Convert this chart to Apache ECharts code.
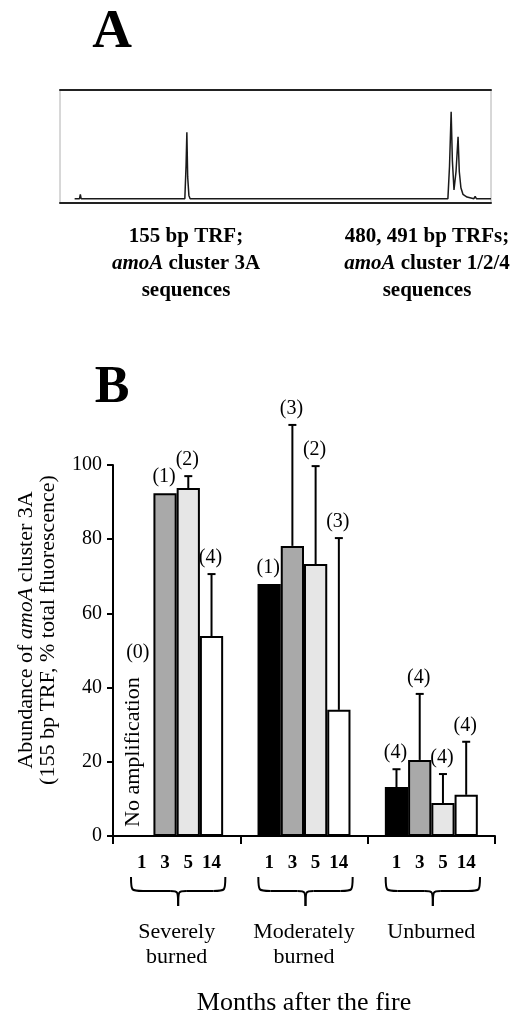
<!DOCTYPE html>
<html>
<head>
<meta charset="utf-8">
<script src="https://cdn.jsdelivr.net/npm/echarts@6/dist/echarts.min.js"></script>
<style>
  html, body { margin: 0; padding: 0; background: #fff; }
  #chart { width: 517px; height: 1015px; }
</style>
</head>
<body>
<div id="chart"></div>
<script>
// ---------- Panel A: T-RFLP electropherogram trace (fragment size bp, relative fluorescence) ----------
const traceBp     = [18, 24, 25, 26, 153.5, 155, 156, 157, 158.5, 160, 266, 267, 268, 477, 479, 481, 482.5, 484.5, 487, 489.5, 491, 493, 495.5, 500.5, 509, 510.5, 512, 530];
const traceSignal = [0,  0,  4,  0,  0,     30,  61,  20,  3,     0,   0,   1.5, 0,   0,   30,  80,  35,    8,     25,  57,    25,  10,  4,     1.5,   0,   2,     0,   0];

// ---------- Panel B: abundance of amoA cluster 3A ----------
const groups = ['Severely\nburned', 'Moderately\nburned', 'Unburned'];
const months = ['1', '3', '5', '14'];
const month1Mean  = [null, 67.9, 13.2];
const month3Mean  = [92.4, 78.2, 20.5];
const month5Mean  = [93.8, 73.3, 8.9];
const month14Mean = [53.9, 34.0, 11.1];
const month1Err   = [0, 0, 4.8];
const month3Err   = [0, 32.6, 17.8];
const month5Err   = [3.2, 26.4, 7.8];
const month14Err  = [16.7, 46.3, 14.3];
const month1N     = [0, 1, 4];
const month3N     = [1, 3, 4];
const month5N     = [2, 2, 4];
const month14N    = [4, 3, 4];
const yTicks = [0, 20, 40, 60, 80, 100];

const means = [month1Mean, month3Mean, month5Mean, month14Mean];
const errs  = [month1Err, month3Err, month5Err, month14Err];
const ns    = [month1N, month3N, month5N, month14N];
const barColors = ['#000000', '#a9a9a9', '#e6e6e6', '#ffffff'];
const CAT_GAP = 0.27;
const SERIF = '"Liberation Serif", "Times New Roman", serif';

const traceData = traceBp.map((b, i) => [b, traceSignal[i]]);

const errData = [];
groups.forEach((g, c) => {
  months.forEach((m, mi) => {
    const v = means[mi][c];
    errData.push([c, mi, v == null ? '-' : v, errs[mi][c], ns[mi][c]]);
  });
});

function barGeom(api, cat, mi) {
  const base = api.coord([cat, 0]);
  const bandW = api.size([1, 0])[0];
  const barW = bandW * (1 - CAT_GAP) / months.length;
  const cx = base[0] + (mi - (months.length - 1) / 2) * barW;
  return { cx, y0: base[1], barW, bandW, base };
}

function renderErr(params, api) {
  const cat = api.value(0), mi = api.value(1), mean = api.value(2), err = api.value(3), n = api.value(4);
  const g = barGeom(api, cat, mi);
  const children = [];
  children.push({
    type: 'text', x: g.cx, y: g.y0 + 27,
    style: { text: months[mi], fontFamily: SERIF, fontWeight: 'bold', fontSize: 19, fill: '#000', align: 'center', verticalAlign: 'middle' }
  });
  if (isNaN(mean)) {
    children.push({
      type: 'text', x: g.cx - 9, y: g.y0 - 9, rotation: Math.PI / 2,
      style: { text: 'No amplification', fontFamily: SERIF, fontSize: 22, fill: '#000', align: 'left', verticalAlign: 'middle' }
    });
    children.push({
      type: 'text', x: g.cx - 4, y: g.y0 - 183,
      style: { text: '(' + n + ')', fontFamily: SERIF, fontSize: 20, fill: '#000', align: 'center', verticalAlign: 'middle' }
    });
    return { type: 'group', children };
  }
  const top = api.coord([cat, mean])[1];
  const errTop = api.coord([cat, mean + err])[1];
  if (err > 0) {
    children.push({ type: 'line', shape: { x1: g.cx, y1: top, x2: g.cx, y2: errTop }, style: { stroke: '#000', lineWidth: 2 } });
    children.push({ type: 'line', shape: { x1: g.cx - 4, y1: errTop, x2: g.cx + 4, y2: errTop }, style: { stroke: '#000', lineWidth: 2 } });
  }
  children.push({
    type: 'text', x: g.cx - 1, y: errTop - 16,
    style: { text: '(' + n + ')', fontFamily: SERIF, fontSize: 20, fill: '#000', align: 'center', verticalAlign: 'middle' }
  });
  return { type: 'group', children };
}

function renderBrace(params, api) {
  const cat = api.value(0);
  const base = api.coord([cat, 0]);
  const bandW = api.size([1, 0])[0];
  const x0 = base[0] - bandW / 2 + 18;
  const x1 = base[0] + bandW / 2 - 15;
  const xc = (x0 + x1) / 2;
  const t = base[1] + 41, m = base[1] + 55, tip = base[1] + 70;
  const st = { stroke: '#000', lineWidth: 2, fill: null };
  return {
    type: 'group',
    children: [
      { type: 'bezierCurve', shape: { x1: x0, y1: t, cpx1: x0, cpy1: m, cpx2: x0, cpy2: m, x2: x0 + 12, y2: m }, style: st },
      { type: 'line', shape: { x1: x0 + 12, y1: m, x2: xc - 8, y2: m }, style: st },
      { type: 'bezierCurve', shape: { x1: xc - 8, y1: m, cpx1: xc, cpy1: m, cpx2: xc, cpy2: m, x2: xc, y2: tip }, style: st },
      { type: 'bezierCurve', shape: { x1: xc, y1: tip, cpx1: xc, cpy1: m, cpx2: xc, cpy2: m, x2: xc + 8, y2: m }, style: st },
      { type: 'line', shape: { x1: xc + 8, y1: m, x2: x1 - 12, y2: m }, style: st },
      { type: 'bezierCurve', shape: { x1: x1 - 12, y1: m, cpx1: x1, cpy1: m, cpx2: x1, cpy2: m, x2: x1, y2: t }, style: st }
    ]
  };
}

const chart = echarts.init(document.getElementById('chart'), null, { renderer: 'canvas' });

const option = {
  backgroundColor: '#ffffff',
  animation: false,
  textStyle: { fontFamily: SERIF, color: '#000' },
  grid: [
    { left: 60, right: 26, top: 90, bottom: 812, outerBoundsMode: 'none', containLabel: false,
      show: true, borderColor: '#b0b0b0', borderWidth: 1, backgroundColor: 'transparent' },
    { left: 113, right: 22, top: 465, bottom: 179, outerBoundsMode: 'none', containLabel: false }
  ],
  xAxis: [
    { gridIndex: 0, type: 'value', min: 0, max: 530, position: 'bottom',
      axisLine: { show: true, onZero: false, lineStyle: { color: '#222', width: 2 } }, axisTick: { show: false }, axisLabel: { show: false }, splitLine: { show: false } },
    { gridIndex: 0, type: 'value', min: 0, max: 530, position: 'top',
      axisLine: { show: true, onZero: false, lineStyle: { color: '#222', width: 2 } }, axisTick: { show: false }, axisLabel: { show: false }, splitLine: { show: false } },
    { gridIndex: 1, type: 'category', data: groups,
      axisLine: { show: true, onZero: false, lineStyle: { color: '#000', width: 2 } },
      axisTick: { show: true, length: 8, lineStyle: { color: '#000', width: 2 } },
      axisLabel: { interval: 0, margin: 84, fontFamily: SERIF, fontSize: 22, lineHeight: 25, color: '#000' },
      name: 'Months after the fire', nameLocation: 'middle', nameGap: 154,
      nameTextStyle: { fontFamily: SERIF, fontSize: 26, color: '#000' } }
  ],
  yAxis: [
    { gridIndex: 0, type: 'value', min: -4, max: 100, show: false, splitLine: { show: false } },
    { gridIndex: 1, type: 'value', min: 0, max: 100, interval: 20,
      axisLine: { show: true, lineStyle: { color: '#000', width: 2 } },
      axisTick: { show: true, length: 6, lineStyle: { color: '#000', width: 2 } },
      axisLabel: { margin: 11, fontFamily: SERIF, fontSize: 20, color: '#000',
        formatter: v => yTicks.indexOf(v) >= 0 ? String(v) : '' },
      splitLine: { show: false } }
  ],
  series: [
    { type: 'line', xAxisIndex: 0, yAxisIndex: 0, data: traceData, showSymbol: false, symbol: 'none',
      lineStyle: { color: '#1a1a1a', width: 1.5 }, z: 3 },
    ...months.map((m, mi) => ({
      type: 'bar', name: m, xAxisIndex: 2, yAxisIndex: 1,
      data: means[mi].map(v => v == null ? '-' : v),
      barGap: '0%', barCategoryGap: (CAT_GAP * 100) + '%',
      itemStyle: { color: barColors[mi], borderColor: '#000', borderWidth: 2 },
      z: 2
    })),
    { type: 'custom', xAxisIndex: 2, yAxisIndex: 1, data: errData, renderItem: renderErr, clip: false, z: 5,
      encode: { x: 0, y: 2 } },
    { type: 'custom', xAxisIndex: 2, yAxisIndex: 1, data: groups.map((g, i) => [i, 0]), renderItem: renderBrace, clip: false, z: 5 }
  ],
  graphic: [
    { type: 'text', x: 112, y: 33, style: { text: 'A', fontFamily: SERIF, fontWeight: 'bold', fontSize: 55, fill: '#000', align: 'center', verticalAlign: 'middle' } },
    { type: 'text', x: 112, y: 389, style: { text: 'B', fontFamily: SERIF, fontWeight: 'bold', fontSize: 52, fill: '#000', align: 'center', verticalAlign: 'middle' } },
    { type: 'text', x: 186, y: 264, style: {
        text: '155 bp TRF;\n{i|amoA} cluster 3A\nsequences',
        fontFamily: SERIF, fontWeight: 'bold', fontSize: 21, lineHeight: 27, fill: '#000', align: 'center', verticalAlign: 'middle',
        rich: { i: { fontFamily: SERIF, fontWeight: 'bold', fontStyle: 'italic', fontSize: 21, lineHeight: 27 } } } },
    { type: 'text', x: 427, y: 264, style: {
        text: '480, 491 bp TRFs;\n{i|amoA} cluster 1/2/4\nsequences',
        fontFamily: SERIF, fontWeight: 'bold', fontSize: 21, lineHeight: 27, fill: '#000', align: 'center', verticalAlign: 'middle',
        rich: { i: { fontFamily: SERIF, fontWeight: 'bold', fontStyle: 'italic', fontSize: 21, lineHeight: 27 } } } },
    { type: 'text', x: 37, y: 630, rotation: Math.PI / 2, style: {
        text: 'Abundance of {i|amoA} cluster 3A\n(155 bp TRF, % total fluorescence)',
        fontFamily: SERIF, fontSize: 22, lineHeight: 22, fill: '#000', align: 'center', verticalAlign: 'middle',
        rich: { i: { fontFamily: SERIF, fontStyle: 'italic', fontSize: 22, lineHeight: 22 } } } }
  ]
};
chart.setOption(option);
</script>
</body>
</html>
